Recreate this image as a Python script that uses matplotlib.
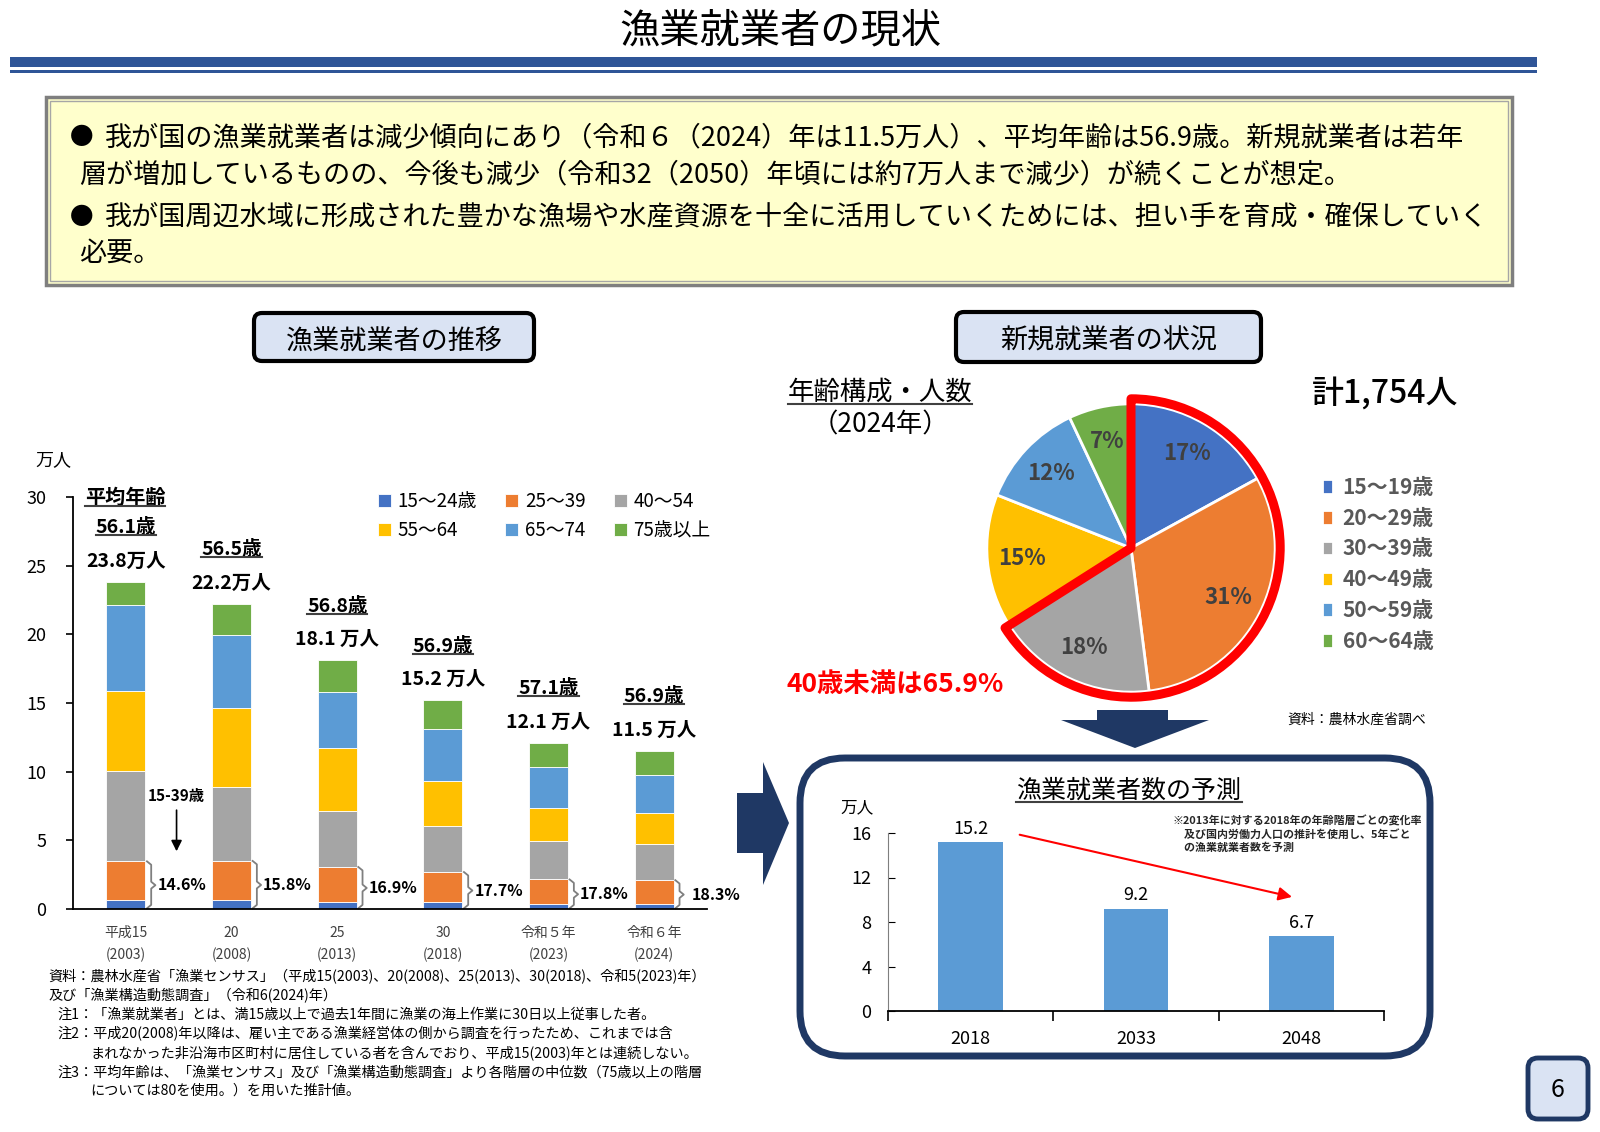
import matplotlib
matplotlib.use("Agg")
import matplotlib.pyplot as plt
from matplotlib.patches import FancyBboxPatch, Rectangle, Polygon, Wedge
from matplotlib.lines import Line2D
import numpy as np

plt.rcParams["font.family"] = ["Noto Sans CJK JP", "DejaVu Sans"]

# ---------------------------------------------------------------- data

# fishery workers by age group (10k persons)
years = ["平成15\n(2003)", "20\n(2008)", "25\n(2013)", "30\n(2018)", "令和５年\n(2023)", "令和６年\n(2024)"]
age_groups = ["15～24歳", "25～39", "40～54", "55～64", "65～74", "75歳以上"]
age_colors = ["#4472C4", "#ED7D31", "#A5A5A5", "#FFC000", "#5B9BD5", "#70AD47"]
age_15_24 = [0.65, 0.65, 0.53, 0.48, 0.36, 0.36]
age_25_39 = [2.82, 2.85, 2.53, 2.21, 1.79, 1.74]
age_40_54 = [6.60, 5.39, 4.11, 3.35, 2.80, 2.63]
age_55_64 = [5.83, 5.72, 4.54, 3.31, 2.42, 2.27]
age_65_74 = [6.27, 5.32, 4.06, 3.74, 2.97, 2.73]
age_75_up = [1.63, 2.27, 2.33, 2.11, 1.76, 1.77]
total_labels = ["23.8万人", "22.2万人", "18.1 万人", "15.2 万人", "12.1 万人", "11.5 万人"]
mean_age = ["56.1歳", "56.5歳", "56.8歳", "56.9歳", "57.1歳", "56.9歳"]
young_share = ["14.6%", "15.8%", "16.9%", "17.7%", "17.8%", "18.3%"]

# new entrants 2024
new_groups = ["15～19歳", "20～29歳", "30～39歳", "40～49歳", "50～59歳", "60～64歳"]
new_share = [17, 31, 18, 15, 12, 7]
new_colors = ["#4472C4", "#ED7D31", "#A5A5A5", "#FFC000", "#5B9BD5", "#70AD47"]

# forecast
fc_years = ["2018", "2033", "2048"]
fc_values = [15.2, 9.2, 6.7]

# ---------------------------------------------------------------- layout

W, H = 1600, 1132
NAVY = "#1F3864"
fig = plt.figure(figsize=(16, 11.32), dpi=100)
bg = fig.add_axes([0, 0, 1, 1])
bg.set_xlim(0, W)
bg.set_ylim(H, 0)
bg.axis("off")


def px_axes(x0, y0, x1, y1):
    return fig.add_axes([x0 / W, 1 - y1 / H, (x1 - x0) / W, (y1 - y0) / H])


underlined = []

# title + rules
bg.text(780, 31, "漁業就業者の現状", fontsize=29, ha="center", va="center")
bg.add_patch(Rectangle((10, 57), 1527, 9.5, color="#2F5597", lw=0))
bg.add_patch(Rectangle((10, 69.5), 1527, 3.5, color="#2F5597", lw=0))

# yellow summary box
bg.add_patch(Rectangle((46, 97), 1466, 188, fc="#FFFFCC", ec="#7F7F7F", lw=2.5))
bg.add_patch(Rectangle((50, 101), 1458, 180, fc="none", ec="#A6A6A6", lw=1))
bfs = 19.5
bg.text(70, 138, "●", fontsize=17, va="center")
bg.text(105, 138, "我が国の漁業就業者は減少傾向にあり（令和６（2024）年は11.5万人）、平均年齢は56.9歳。新規就業者は若年",
        fontsize=bfs, va="center")
bg.text(79, 175, "層が増加しているものの、今後も減少（令和32（2050）年頃には約7万人まで減少）が続くことが想定。",
        fontsize=bfs, va="center")
bg.text(70, 217, "●", fontsize=17, va="center")
bg.text(105, 217, "我が国周辺水域に形成された豊かな漁場や水産資源を十全に活用していくためには、担い手を育成・確保していく",
        fontsize=bfs, va="center")
bg.text(79, 253, "必要。", fontsize=bfs, va="center")

# section labels
for (x0, y0, x1, y1, s) in [(254, 313, 534, 361, "漁業就業者の推移"), (956, 312, 1261, 362, "新規就業者の状況")]:
    bg.add_patch(FancyBboxPatch((x0, y0), x1 - x0, y1 - y0, boxstyle="round,pad=0,rounding_size=8",
                                fc="#DAE3F3", ec="black", lw=3))
    bg.text((x0 + x1) / 2, (y0 + y1) / 2 + 4, s, fontsize=19.5, ha="center", va="center")

# arrows
bg.add_patch(Polygon([(737, 793), (763, 793), (763, 762), (789, 823), (763, 885), (763, 853), (737, 853)],
                     color=NAVY, lw=0))
bg.add_patch(Polygon([(1097, 710), (1168, 710), (1168, 720), (1209, 720), (1135, 748), (1061, 720), (1097, 720)],
                     color=NAVY, lw=0))

# forecast box
bg.add_patch(FancyBboxPatch((800, 758), 630, 298, boxstyle="round,pad=0,rounding_size=45",
                            fc="white", ec=NAVY, lw=5))
# page number
bg.add_patch(FancyBboxPatch((1528, 1058), 60, 61, boxstyle="round,pad=0,rounding_size=10",
                            fc="#DAE3F3", ec=NAVY, lw=3.5))
bg.text(1558, 1090, "6", fontsize=18, ha="center", va="center")

# ---------------------------------------------------------------- stacked bars
ax = px_axes(73, 497, 707, 909)
x = np.arange(len(years))
stack = [age_15_24, age_25_39, age_40_54, age_55_64, age_65_74, age_75_up]
bottom = np.zeros(len(years))
for vals, name, col in zip(stack, age_groups, age_colors):
    ax.bar(x, vals, 0.37, bottom=bottom, color=col, edgecolor="white", linewidth=0.6, label=name)
    bottom += np.array(vals)
young = np.array(age_15_24) + np.array(age_25_39)

ax.set_xlim(-0.5, 5.5)
ax.set_ylim(0, 30)
ax.set_yticks(range(0, 31, 5))
ax.tick_params(axis="y", labelsize=13, length=5, width=1.2, pad=14)
ax.set_xticks(x)
ax.set_xticklabels(years, fontsize=10, color="#404040", linespacing=1.7)
ax.tick_params(axis="x", length=0, pad=12)
ax.spines["top"].set_visible(False)
ax.spines["right"].set_visible(False)
ax.spines["left"].set_linewidth(1.3)
ax.spines["bottom"].set_linewidth(1.3)
ax.set_facecolor("none")

for i in range(len(years)):
    ax.annotate(total_labels[i], (x[i], bottom[i]), xytext=(0, 15), textcoords="offset points",
                ha="center", va="center", fontsize=14, fontweight="bold")
    t = ax.annotate(mean_age[i], (x[i], bottom[i]), xytext=(0, 39), textcoords="offset points",
                    ha="center", va="center", fontsize=14, fontweight="bold")
    underlined.append(t)
    # brace for 15-39 share
    x0, w, d, ym = x[i] + 0.2, 0.08, 0.25, young[i] / 2
    ax.plot([x0, x0 + w / 2, x0 + w / 2, x0 + w, x0 + w / 2, x0 + w / 2, x0],
            [0.05, 0.05 + d, ym - d, ym, ym + d, young[i] - d, young[i]],
            color="#7F7F7F", lw=1.3, clip_on=False)
    ax.text(x[i] + 0.3 + (0.06 if i == 5 else 0), ym, young_share[i], ha="left", va="center",
            fontsize=11.5, fontweight="bold")

ax.text(0.48, 8.2, "15-39歳", ha="center", va="center", fontsize=11, fontweight="bold")
ax.annotate("", xy=(0.48, 4.0), xytext=(0.48, 7.4),
            arrowprops=dict(arrowstyle="-|>", color="black", lw=1.2, mutation_scale=16))

h, l = ax.get_legend_handles_labels()
order = [0, 3, 1, 4, 2, 5]
ax.legend([h[k] for k in order], [l[k] for k in order], ncol=3, frameon=False, fontsize=13.5,
          loc="upper left", bbox_to_anchor=(361 / W, 1 - 474 / H), bbox_transform=fig.transFigure,
          handlelength=0.7, handleheight=0.7, handletextpad=0.35, columnspacing=1.5, labelspacing=0.45)

bg.text(53, 460, "万人", fontsize=13, ha="center", va="center")
t = bg.text(125, 497, "平均年齢", fontsize=14.5, fontweight="bold", ha="center", va="center")
underlined.append(t)

foot = [
    (48, 977, "資料：農林水産省「漁業センサス」（平成15(2003)、20(2008)、25(2013)、30(2018)、令和5(2023)年）"),
    (48, 996, "及び「漁業構造動態調査」（令和6(2024)年）"),
    (57, 1015, "注1：「漁業就業者」とは、満15歳以上で過去1年間に漁業の海上作業に30日以上従事した者。"),
    (57, 1034, "注2：平成20(2008)年以降は、雇い主である漁業経営体の側から調査を行ったため、これまでは含"),
    (90, 1053, "まれなかった非沿海市区町村に居住している者を含んでおり、平成15(2003)年とは連続しない。"),
    (57, 1072, "注3：平均年齢は、「漁業センサス」及び「漁業構造動態調査」より各階層の中位数（75歳以上の階層"),
    (90, 1091, "については80を使用。）を用いた推計値。"),
]
for fx, fy, s in foot:
    bg.text(fx, fy, s, fontsize=10.2, va="center")

# ---------------------------------------------------------------- pie
cx, cy, r = 1131, 548, 144
pax = px_axes(cx - 160, cy - 160, cx + 160, cy + 160)
wedges, _, autotexts = pax.pie(new_share, colors=new_colors, startangle=90, counterclock=False, radius=1,
                               autopct=lambda p: f"{p:.0f}%", pctdistance=0.76,
                               wedgeprops=dict(edgecolor="white", linewidth=2))
for at in autotexts:
    at.set_fontsize(16)
    at.set_fontweight("bold")
    at.set_color("#404040")
young_frac = sum(new_share[:3]) / sum(new_share)
pax.add_patch(Wedge((0, 0), 1.035, 90 - 360 * young_frac, 90, fill=False, ec="#FF0000", lw=6.5,
                    joinstyle="round"))
pax.set_xlim(-1.11, 1.11)
pax.set_ylim(-1.11, 1.11)
pax.set_aspect("equal")
pax.axis("off")
pax.legend(wedges, new_groups, loc="upper left", bbox_to_anchor=(1303 / W, 1 - 458 / H),
           bbox_transform=fig.transFigure, frameon=False, handlelength=0.55, handleheight=0.7,
           handletextpad=0.45, labelspacing=0.47, prop=dict(size=15, weight="bold"), labelcolor="#595959")

t = bg.text(880, 392, "年齢構成・人数", fontsize=19, ha="center", va="center")
underlined.append(t)
bg.text(880, 425, "（2024年）", fontsize=19, ha="center", va="center")
bg.text(1385, 393, "計1,754人", fontsize=23, ha="center", va="center", fontweight="medium")
bg.text(895, 685, "40歳未満は65.9%", fontsize=19, ha="center", va="center", color="#FF0000", fontweight="bold")
bg.text(1357, 720, "資料：農林水産省調べ", fontsize=10, ha="center", va="center")

# ---------------------------------------------------------------- forecast
fax = px_axes(888, 833, 1384, 1011)
fx = np.arange(len(fc_years))
bars = fax.bar(fx, fc_values, 0.39, color="#5B9BD5")
fax.bar_label(bars, fmt="%.1f", padding=3, fontsize=13)
fax.set_xlim(-0.5, 2.5)
fax.set_ylim(0, 16)
fax.set_yticks([0, 4, 8, 12, 16])
fax.tick_params(axis="y", labelsize=13, direction="in", length=5, pad=12)
fax.set_xticks(fx)
fax.set_xticklabels(fc_years, fontsize=13)
fax.tick_params(axis="x", which="major", length=0, pad=14)
fax.set_xticks([-0.5, 0.5, 1.5, 2.5], minor=True)
fax.tick_params(axis="x", which="minor", direction="out", length=7, width=1.2)
fax.spines["top"].set_visible(False)
fax.spines["right"].set_visible(False)
fax.spines["bottom"].set_linewidth(1.3)
fax.spines["left"].set_color("#7F7F7F")
fax.set_facecolor("none")
fax.annotate("", xy=(1.96, 10.2), xytext=(0.28, 15.9),
             arrowprops=dict(arrowstyle="-|>", color="#FF0000", lw=1.5, mutation_scale=20))

t = bg.text(1129, 791, "漁業就業者数の予測", fontsize=18, ha="center", va="center")
underlined.append(t)
bg.text(857, 808, "万人", fontsize=12, ha="center", va="center")
bg.text(1173, 815, "※2013年に対する2018年の年齢階層ごとの変化率\n　及び国内労働力人口の推計を使用し、5年ごと\n　の漁業就業者数を予測",
        fontsize=7.9, va="top", ha="left", fontweight="bold", color="#262626", linespacing=1.3)

# ---------------------------------------------------------------- underlines
fig.canvas.draw()
for t in underlined:
    bb = t.get_window_extent()
    yy = (bb.y0 + 2) / H
    fig.add_artist(Line2D([bb.x0 / W, bb.x1 / W], [yy, yy], transform=fig.transFigure,
                          color="#404040", lw=1.5))

fig.savefig("out.png", dpi=100)
